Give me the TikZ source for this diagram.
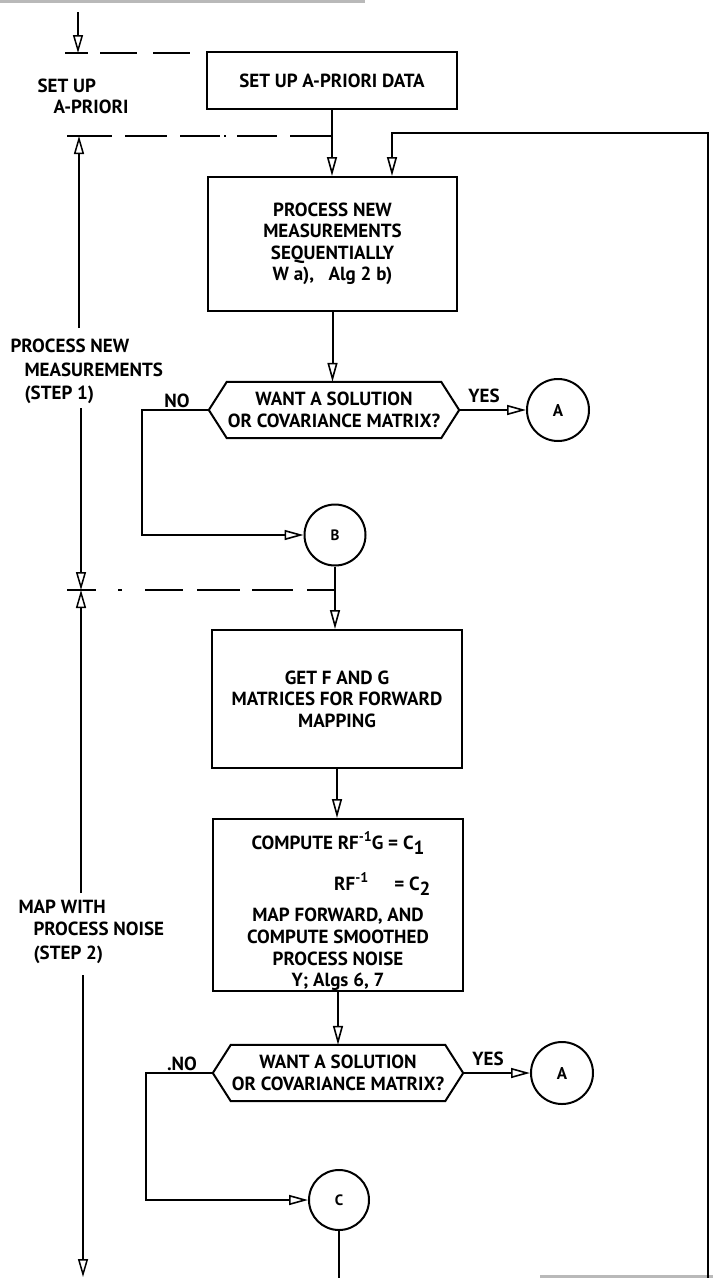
\documentclass[tikz,border=0pt]{standalone}
\usepackage{fontspec}
\setmainfont{PT Sans}
\usetikzlibrary{arrows.meta,calc}
\begin{document}
\begin{tikzpicture}[x=1pt,y=-1pt,
  ln/.style={line width=2pt},
  arr/.style={line width=2pt,-{Triangle[open,length=19pt,width=10pt,line width=1.6pt]}},
  axarr/.style={line width=1.4pt,-{Triangle[open,length=18pt,width=10pt,line width=1.5pt]}},
  lab/.style={font=\bfseries\fontsize{19}{21.5}\selectfont},
  box/.style={draw,line width=2pt,align=center,inner sep=0pt,font=\bfseries\fontsize{19}{21.5}\selectfont},
  hexn/.style={align=center,inner sep=0pt,minimum width=214pt,minimum height=56pt,font=\bfseries\fontsize{19}{22}\selectfont},
  circ/.style={draw,circle,line width=2pt,inner sep=0pt,minimum size=62pt,font=\bfseries\fontsize{17}{18}\selectfont},
  tick/.style={line width=1.7pt},
  sep/.style={line width=1.7pt},
  scan/.style={line width=2.5pt,gray!55}
]
\useasboundingbox (0,0) rectangle (713,1278);
% scan edges
\draw[scan] (0,1.5) -- (365,1.5);
\draw[scan] (540,1276.5) -- (713,1276.5);

% boxes
\node[box,minimum width=250pt,minimum height=57pt] (b1) at (332,80.5) {SET UP A-PRIORI DATA};
\node[box,minimum width=249pt,minimum height=134pt] (b2) at (332.5,244) {PROCESS NEW\\MEASUREMENTS\\SEQUENTIALLY\\W a),~~ Alg 2 b)};
\node[hexn] (h1) at (334,410) {WANT A SOLUTION\\OR COVARIANCE MATRIX?};
\coordinate (h1e) at ([xshift=18pt]h1.east);
\coordinate (h1w) at ([xshift=-18pt]h1.west);
\draw[ln] (h1.north west) -- (h1.north east) -- (h1e) -- (h1.south east) -- (h1.south west) -- (h1w) -- cycle;
\node[circ] (a1) at (558,410) {A};
\node[circ,minimum size=61pt,font=\bfseries\fontsize{15}{16}\selectfont] (bb) at (335,535) {B};
\node[box,minimum width=250pt,minimum height=138pt] (b3) at (337,699) {GET F AND G\\MATRICES FOR FORWARD\\MAPPING};
\node[box,minimum width=250pt,minimum height=172pt] (b4) at (338,905) {};
\node[lab,anchor=base] (t1) at (338,849) {COMPUTE RF\raisebox{0.8ex}{\fontsize{14}{14}\selectfont -1}G = C\raisebox{-0.6ex}{1}};
\node[lab,anchor=base east] (t2) at (434,890) {RF\raisebox{0.8ex}{\fontsize{14}{14}\selectfont -1}\hspace{26pt}= C\raisebox{-0.6ex}{2}};
\node[lab,anchor=base] (t3) at (338,921) {MAP FORWARD, AND};
\node[lab,anchor=base] (t4) at (338,943.5) {COMPUTE SMOOTHED};
\node[lab,anchor=base] (t5) at (338,965) {PROCESS NOISE};
\node[lab,anchor=base] (t6) at (338,986) {Y; Algs 6, 7};
\node[hexn] (h2) at (338,1073) {WANT A SOLUTION\\OR COVARIANCE MATRIX?};
\coordinate (h2e) at ([xshift=18pt]h2.east);
\coordinate (h2w) at ([xshift=-18pt]h2.west);
\draw[ln] (h2.north west) -- (h2.north east) -- (h2e) -- (h2.south east) -- (h2.south west) -- (h2w) -- cycle;
\node[circ] (a2) at (562,1073) {A};
\node[circ,minimum size=60pt,font=\bfseries\fontsize{15}{16}\selectfont] (cc) at (339,1200) {C};

% branch labels
\node[lab] (no1) at (177,401) {NO};
\node[lab] (yes1) at (484,396) {YES};
\node[lab] (no2) at (182,1064) {.NO};
\node[lab] (yes2) at (488,1059) {YES};

% connectors
\draw[arr] (b1.south) -- (b1.south |- b2.north);
\draw[arr] (b2.south) -- (b2.south |- h1.north);
\draw[arr] (h1e) -- (h1e -| a1.west);
\coordinate (n1) at (142,410);
\draw[arr] (h1w) -- (n1) |- (bb.west);
\draw[arr] (bb.south) -- (bb.south |- b3.north);
\draw[arr] (b3.south) -- (b3.south |- b4.north);
\draw[arr] (b4.south) -- (b4.south |- h2.north);
\draw[arr] (h2e) -- (h2e -| a2.west);
\coordinate (n2) at (146,1073);
\draw[arr] (h2w) -- (n2) |- (cc.west);
\coordinate (cbot) at (339,1278);
\draw[ln] (cc.south) -- (cbot);
% feedback loop
\coordinate (fb1) at (708,1278);
\coordinate (fb2) at (708,133);
\coordinate (fb3) at (392,133);
\draw[arr] (fb1) -- (fb2) -- (fb3) -- (fb3 |- b2.north);

% phase separators
\coordinate (d1a) at (100,53); \coordinate (d1b) at (190,53);
\coordinate (d2a) at (92,136); \coordinate (d2b) at (332,136);
\coordinate (d3a) at (118,590); \coordinate (d3b) at (334,590);
\draw[sep,dash pattern=on 37pt off 16pt] (d1a) -- (d1b);
\draw[sep,dash pattern=on 20pt off 13pt on 42pt off 13pt on 40pt off 4pt on 2pt off 11pt on 40pt off 13pt on 42pt off 13pt] (d2a) -- (d2b);
\draw[sep,dash pattern=on 4pt off 23pt on 38pt off 14pt on 43pt off 12pt on 41pt off 14pt on 40pt off 10pt] (d3a) -- (d3b);
\draw[tick] (65,53) -- (88,53);
\draw[tick] (67,136) -- (92,136);
\draw[tick] (67,590) -- (96,590);

% left phase axis
\coordinate (p0) at (78,12);  \coordinate (p1) at (78,53);
\coordinate (p2) at (79,328); \coordinate (p3) at (79,136);
\coordinate (p4) at (81,408); \coordinate (p5) at (81,590);
\coordinate (p6) at (81,893);
\coordinate (p7) at (83,975); \coordinate (p8) at (83,1277);
\draw[axarr] (p0) -- (p1);
\draw[axarr] (p2) -- (p3);
\draw[axarr] (p4) -- (p5);
\draw[axarr] (p6) -- (p5);
\draw[axarr] (p7) -- (p8);

% phase labels
\node[lab,anchor=base west] (l1) at (34,92) {SET UP};
\node[lab,anchor=base west] (l2) at (50,113) {A-PRIORI};
\node[lab,anchor=base west] (l3) at (7,352) {PROCESS NEW};
\node[lab,anchor=base west] (l4) at (21,376) {MEASUREMENTS};
\node[lab,anchor=base west] (l5) at (21,399) {(STEP 1)};
\node[lab,anchor=base west] (l6) at (15,913) {MAP WITH};
\node[lab,anchor=base west] (l7) at (30,935) {PROCESS NOISE};
\node[lab,anchor=base west] (l8) at (30,959) {(STEP 2)};
\end{tikzpicture}
\end{document}
